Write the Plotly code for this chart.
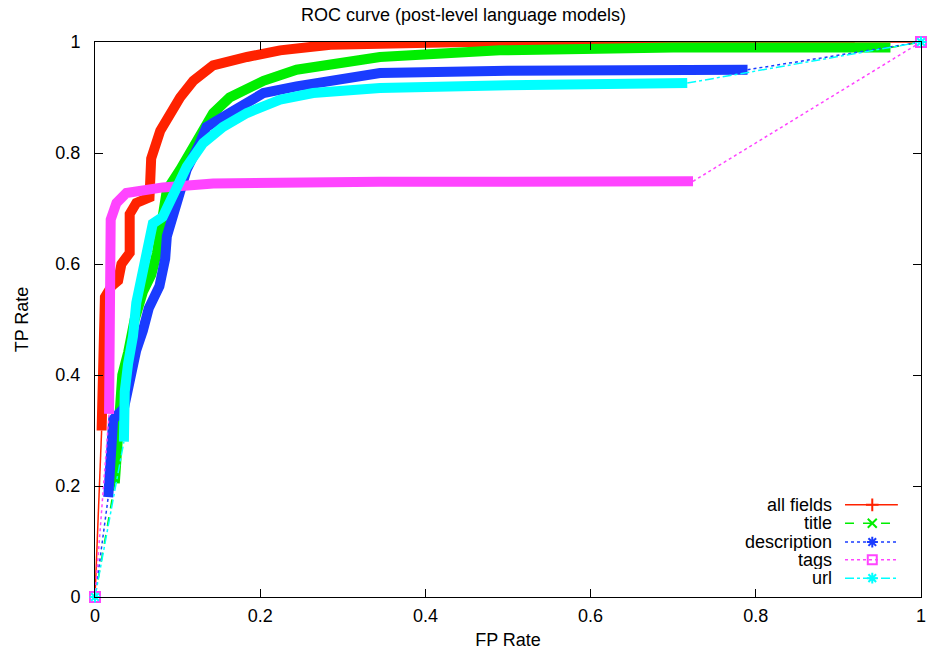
import plotly.graph_objects as go

# ---------------- data ----------------
all_x = [0.008, 0.010, 0.012, 0.020, 0.028, 0.032, 0.042, 0.042, 0.050, 0.066, 0.068, 0.079,
         0.091, 0.103, 0.119, 0.143, 0.184, 0.224, 0.285, 0.340, 0.450, 0.600, 0.760, 0.920]
all_y = [0.30, 0.42, 0.54, 0.56, 0.57, 0.60, 0.62, 0.69, 0.71, 0.72, 0.79, 0.84,
         0.872, 0.90, 0.93, 0.958, 0.973, 0.985, 0.995, 0.998, 1.0, 1.0, 1.0, 1.0]

title_x = [0.024, 0.028, 0.033, 0.040, 0.048, 0.058, 0.068, 0.075, 0.079, 0.087, 0.103,
           0.123, 0.143, 0.163, 0.204, 0.244, 0.305, 0.345, 0.490, 0.700, 0.963]
title_y = [0.205, 0.30, 0.40, 0.44, 0.50, 0.55, 0.58, 0.62, 0.66, 0.733, 0.77,
           0.823, 0.872, 0.90, 0.93, 0.95, 0.966, 0.973, 0.985, 0.99, 0.99]

desc_x = [0.016, 0.018, 0.022, 0.035, 0.043, 0.050, 0.058, 0.065, 0.078, 0.085, 0.087, 0.099,
          0.111, 0.127, 0.135, 0.163, 0.204, 0.244, 0.285, 0.345, 0.500, 0.650, 0.790]
desc_y = [0.18, 0.25, 0.32, 0.34, 0.40, 0.445, 0.48, 0.52, 0.56, 0.61, 0.65, 0.71,
          0.77, 0.818, 0.847, 0.872, 0.908, 0.92, 0.93, 0.944, 0.948, 0.95, 0.95]

tags_x = [0.017, 0.017, 0.019, 0.026, 0.038, 0.082, 0.143, 0.345, 0.724]
tags_y = [0.33, 0.60, 0.68, 0.71, 0.728, 0.738, 0.745, 0.748, 0.749]

url_x = [0.035, 0.036, 0.040, 0.046, 0.050, 0.058, 0.065, 0.070, 0.082, 0.099, 0.111,
         0.131, 0.155, 0.184, 0.224, 0.264, 0.345, 0.500, 0.717]
url_y = [0.28, 0.37, 0.42, 0.47, 0.53, 0.58, 0.63, 0.673, 0.685, 0.733, 0.775,
         0.818, 0.847, 0.872, 0.896, 0.908, 0.917, 0.922, 0.926]

end_x = [0, 1]
end_y = [0, 1]

tick_vals = [0, 0.2, 0.4, 0.6, 0.8, 1]
tick_text = ["0", "0.2", "0.4", "0.6", "0.8", "1"]

series = [
    ("all fields", all_x, all_y, "#ff2200", "solid", "cross-thin"),
    ("title", title_x, title_y, "#00ee00", "dash", "x-thin"),
    ("description", desc_x, desc_y, "#1a3cff", "dot", "asterisk"),
    ("tags", tags_x, tags_y, "#ff44ff", "dot", "square-open"),
    ("url", url_x, url_y, "#00ffff", "dashdot", "asterisk"),
]

FONT = "Liberation Sans, Arial, Helvetica, sans-serif"
FS = 18
W, H = 927, 654

fig = go.Figure()

for name, xs, ys, col, dash, sym in series:
    # thin connecting segments from (0,0) to the dense part, and to (1,1)
    fig.add_trace(go.Scatter(x=[end_x[0], xs[0]], y=[end_y[0], ys[0]], mode="lines",
                             line=dict(color=col, width=1.5, dash=dash),
                             showlegend=False, hoverinfo="skip"))
    fig.add_trace(go.Scatter(x=[xs[-1], end_x[1]], y=[ys[-1], end_y[1]], mode="lines",
                             line=dict(color=col, width=1.5, dash=dash),
                             showlegend=False, hoverinfo="skip"))
    # dense marker band
    fig.add_trace(go.Scatter(x=xs, y=ys, mode="lines", name=name,
                             line=dict(color=col, width=10),
                             showlegend=False))

# end-point markers
fig.add_trace(go.Scatter(x=end_x, y=end_y, mode="markers", cliponaxis=False,
                         marker=dict(symbol="square-open", size=10, color="#ff44ff",
                                     line=dict(width=2, color="#ff44ff")),
                         showlegend=False, hoverinfo="skip"))
fig.add_trace(go.Scatter(x=end_x, y=end_y, mode="markers", cliponaxis=False,
                         marker=dict(symbol="asterisk", size=9, color="#00ffff",
                                     line=dict(width=2, color="#00ffff")),
                         showlegend=False, hoverinfo="skip"))

# ---------------- gnuplot-style key (bottom right) ----------------
key_rows = [0.166, 0.133, 0.099, 0.067, 0.034]
key_x0, key_x1, key_xm, key_text = 0.908, 0.972, 0.941, 0.893
shapes = []
annotations = []
leg_x, leg_y, leg_sym, leg_col = [], [], [], []
for (name, xs, ys, col, dash, sym), yy in zip(series, key_rows):
    shapes.append(dict(type="line", xref="paper", yref="paper", x0=key_x0, x1=key_x1,
                       y0=yy, y1=yy, line=dict(color=col, width=1.5, dash=dash)))
    annotations.append(dict(xref="paper", yref="paper", x=key_text, y=yy, text=name,
                            showarrow=False, xanchor="right", yanchor="middle",
                            borderpad=0, height=18, valign="middle",
                            font=dict(family=FONT, size=FS, color="black")))
    leg_x.append(key_xm)
    leg_y.append(yy)
    leg_sym.append(sym)
    leg_col.append(col)

fig.add_trace(go.Scatter(x=leg_x, y=leg_y, xaxis="x2", yaxis="y2", mode="markers",
                         marker=dict(symbol=leg_sym, size=9, color=leg_col,
                                     line=dict(width=2, color=leg_col)),
                         showlegend=False, hoverinfo="skip"))

axis_common = dict(range=[0, 1], tickvals=tick_vals, ticktext=tick_text,
                   ticks="inside", ticklen=8, tickwidth=1, tickcolor="black",
                   showline=True, linecolor="black", linewidth=1, mirror="ticks",
                   showgrid=False, zeroline=False, automargin=False,
                   ticklabeloverflow="allow",
                   tickfont=dict(family=FONT, size=FS, color="black"))

fig.update_layout(
    width=W, height=H,
    margin=dict(l=95, r=6, t=42, b=57),
    plot_bgcolor="white", paper_bgcolor="white",
    title=dict(text="ROC curve (post-level language models)", x=0.5, xanchor="center",
               y=1 - 15 / H, yanchor="middle",
               font=dict(family=FONT, size=FS, color="black")),
    xaxis=dict(**axis_common, ticklabelstandoff=2,
               title=dict(text="FP Rate", standoff=8,
                          font=dict(family=FONT, size=FS, color="black"))),
    yaxis=dict(**axis_common, ticklabelstandoff=10,
               title=dict(text="TP Rate", standoff=22,
                          font=dict(family=FONT, size=FS, color="black"))),
    xaxis2=dict(overlaying="x", range=[0, 1], visible=False, fixedrange=True),
    yaxis2=dict(overlaying="y", range=[0, 1], visible=False, fixedrange=True),
    shapes=shapes,
    annotations=annotations,
    showlegend=False,
)

fig.write_html("out.html",
               config={"displayModeBar": False},
               post_script="document.body.style.margin='0px';"
                           "document.body.style.overflow='hidden';")
